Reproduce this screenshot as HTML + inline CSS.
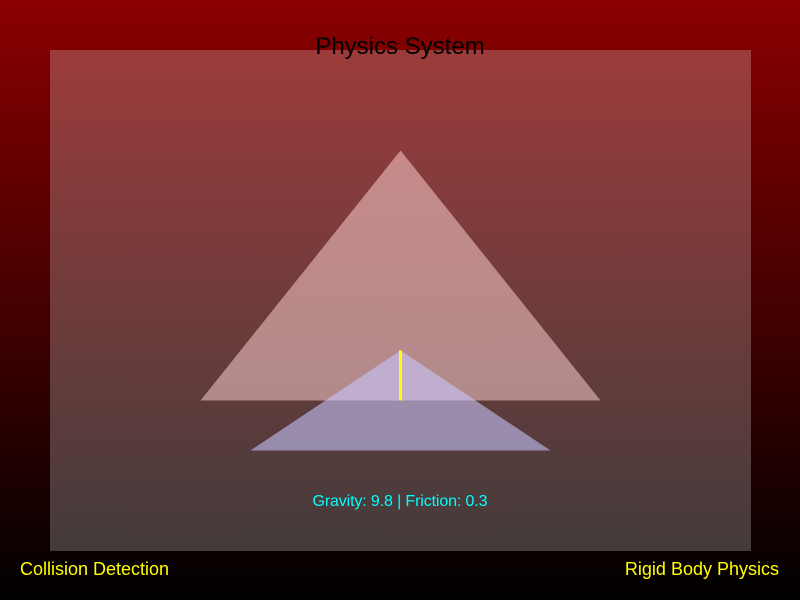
<!DOCTYPE html>
<html><head><meta charset="utf-8"><style>
html,body{margin:0;padding:0;width:800px;height:600px;overflow:hidden}
svg{display:block}
text{font-family:"Liberation Sans",sans-serif}
</style></head><body>
<svg width="800" height="600" viewBox="0 0 800 600">
<defs><linearGradient id="bg" x1="0" y1="0" x2="0" y2="1">
<stop offset="0" stop-color="#8b0000"/><stop offset="1" stop-color="#000000"/></linearGradient></defs>
<rect width="800" height="600" fill="url(#bg)"/>
<rect x="50" y="50" width="701" height="501" fill="rgba(255,255,255,0.23)"/>
<text x="400" y="54" font-size="24" text-anchor="middle" fill="#000">Physics System</text>
<polygon points="200.5,400.5 400.5,150.5 600.5,400.5" fill="rgba(255,210,210,0.52)"/>
<polygon points="250.5,450.5 400.5,350.5 550.5,450.5" fill="rgba(200,200,255,0.58)"/>
<line x1="400.5" y1="350.5" x2="400.5" y2="400.5" stroke="#ffff00" stroke-width="3"/>
<text x="400" y="506" font-size="16" text-anchor="middle" fill="#00ffff" textLength="175">Gravity: 9.8 | Friction: 0.3</text>
<text x="20" y="575" font-size="18" fill="#ffff00">Collision Detection</text>
<text x="779" y="575" font-size="18" text-anchor="end" fill="#ffff00">Rigid Body Physics</text>
</svg>
</body></html>
